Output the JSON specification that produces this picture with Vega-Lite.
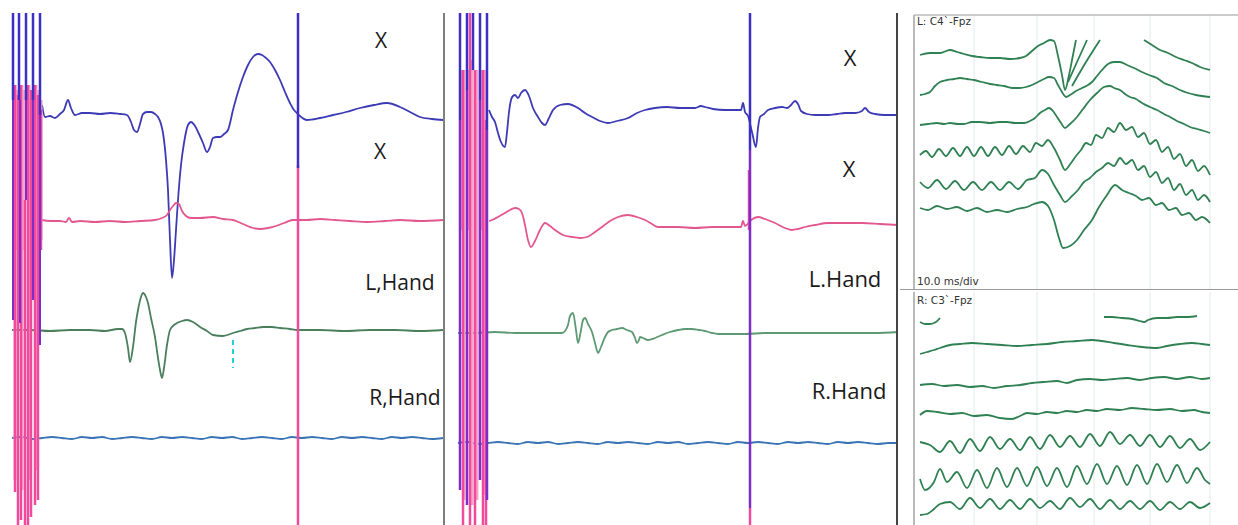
{
"$schema":"https://vega.github.io/schema/vega-lite/v6.json",
"padding":0,
"background":"white",
"spacing":0,
"config":{"view":{"stroke":null},"axis":{"disable":true}},
"resolve":{"scale":{"color":"independent"}},
"datasets":{
"L":[
{"s":"lb","x":42,"y":105},{"s":"lb","x":45,"y":117},{"s":"lb","x":50,"y":116},{"s":"lb","x":55,"y":118},{"s":"lb","x":60,"y":114},{"s":"lb","x":64,"y":110},{"s":"lb","x":68,"y":100},{"s":"lb","x":71,"y":108},{"s":"lb","x":75,"y":115},{"s":"lb","x":82,"y":113},{"s":"lb","x":90,"y":113},{"s":"lb","x":100,"y":114},{"s":"lb","x":110,"y":113},{"s":"lb","x":120,"y":114},{"s":"lb","x":127,"y":115},{"s":"lb","x":131,"y":122},{"s":"lb","x":134,"y":130},{"s":"lb","x":137,"y":132},{"s":"lb","x":140,"y":124},{"s":"lb","x":143,"y":114},{"s":"lb","x":147,"y":112},{"s":"lb","x":151,"y":112},{"s":"lb","x":155,"y":114},{"s":"lb","x":158,"y":117},{"s":"lb","x":161,"y":124},{"s":"lb","x":163,"y":133},{"s":"lb","x":166,"y":160},{"s":"lb","x":168,"y":190},{"s":"lb","x":170,"y":240},{"s":"lb","x":172,"y":278},{"s":"lb","x":174,"y":260},{"s":"lb","x":176,"y":230},{"s":"lb","x":178,"y":200},{"s":"lb","x":181,"y":165},{"s":"lb","x":184,"y":143},{"s":"lb","x":188,"y":125},{"s":"lb","x":191,"y":122},{"s":"lb","x":195,"y":126},{"s":"lb","x":199,"y":134},{"s":"lb","x":203,"y":143},{"s":"lb","x":207,"y":152},{"s":"lb","x":210,"y":147},{"s":"lb","x":213,"y":138},{"s":"lb","x":217,"y":137},{"s":"lb","x":220,"y":137},{"s":"lb","x":224,"y":134},{"s":"lb","x":228,"y":130},{"s":"lb","x":233,"y":110},{"s":"lb","x":238,"y":92},{"s":"lb","x":243,"y":77},{"s":"lb","x":248,"y":65},{"s":"lb","x":253,"y":57},{"s":"lb","x":258,"y":54},{"s":"lb","x":262,"y":55},{"s":"lb","x":266,"y":58},{"s":"lb","x":270,"y":62},{"s":"lb","x":275,"y":70},{"s":"lb","x":280,"y":80},{"s":"lb","x":285,"y":92},{"s":"lb","x":290,"y":103},{"s":"lb","x":294,"y":110},{"s":"lb","x":297,"y":113},{"s":"lb","x":300,"y":116},{"s":"lb","x":307,"y":120},{"s":"lb","x":320,"y":118},{"s":"lb","x":333,"y":115},{"s":"lb","x":346,"y":112},{"s":"lb","x":360,"y":108},{"s":"lb","x":374,"y":105},{"s":"lb","x":387,"y":103},{"s":"lb","x":400,"y":107},{"s":"lb","x":410,"y":112},{"s":"lb","x":420,"y":117},{"s":"lb","x":432,"y":119},{"s":"lb","x":443,"y":120},
{"s":"lp","x":42,"y":220},{"s":"lp","x":50,"y":221},{"s":"lp","x":60,"y":221},{"s":"lp","x":66,"y":222},{"s":"lp","x":69,"y":218},{"s":"lp","x":72,"y":222},{"s":"lp","x":80,"y":221},{"s":"lp","x":95,"y":222},{"s":"lp","x":110,"y":221},{"s":"lp","x":125,"y":222},{"s":"lp","x":140,"y":221},{"s":"lp","x":155,"y":220},{"s":"lp","x":162,"y":218},{"s":"lp","x":167,"y":215},{"s":"lp","x":170,"y":210},{"s":"lp","x":173,"y":206},{"s":"lp","x":176,"y":203},{"s":"lp","x":179,"y":204},{"s":"lp","x":182,"y":211},{"s":"lp","x":186,"y":216},{"s":"lp","x":191,"y":218},{"s":"lp","x":200,"y":218},{"s":"lp","x":213,"y":217},{"s":"lp","x":223,"y":219},{"s":"lp","x":233,"y":220},{"s":"lp","x":243,"y":224},{"s":"lp","x":253,"y":228},{"s":"lp","x":260,"y":229},{"s":"lp","x":268,"y":228},{"s":"lp","x":276,"y":226},{"s":"lp","x":284,"y":223},{"s":"lp","x":293,"y":220},{"s":"lp","x":307,"y":220},{"s":"lp","x":320,"y":219},{"s":"lp","x":335,"y":220},{"s":"lp","x":350,"y":221},{"s":"lp","x":367,"y":222},{"s":"lp","x":385,"y":221},{"s":"lp","x":400,"y":220},{"s":"lp","x":420,"y":221},{"s":"lp","x":443,"y":220},
{"s":"lg","x":12,"y":330},{"s":"lg","x":30,"y":330},{"s":"lg","x":50,"y":331},{"s":"lg","x":70,"y":330},{"s":"lg","x":90,"y":330},{"s":"lg","x":105,"y":331},{"s":"lg","x":118,"y":329},{"s":"lg","x":122,"y":329},{"s":"lg","x":125,"y":333},{"s":"lg","x":128,"y":348},{"s":"lg","x":130,"y":362},{"s":"lg","x":133,"y":347},{"s":"lg","x":136,"y":322},{"s":"lg","x":138,"y":310},{"s":"lg","x":141,"y":297},{"s":"lg","x":143,"y":293},{"s":"lg","x":146,"y":297},{"s":"lg","x":148,"y":303},{"s":"lg","x":151,"y":318},{"s":"lg","x":155,"y":337},{"s":"lg","x":158,"y":358},{"s":"lg","x":160,"y":370},{"s":"lg","x":162,"y":378},{"s":"lg","x":164,"y":368},{"s":"lg","x":167,"y":345},{"s":"lg","x":170,"y":330},{"s":"lg","x":174,"y":325},{"s":"lg","x":177,"y":323},{"s":"lg","x":182,"y":321},{"s":"lg","x":187,"y":320},{"s":"lg","x":193,"y":322},{"s":"lg","x":200,"y":327},{"s":"lg","x":207,"y":331},{"s":"lg","x":213,"y":335},{"s":"lg","x":223,"y":336},{"s":"lg","x":233,"y":333},{"s":"lg","x":240,"y":331},{"s":"lg","x":247,"y":329},{"s":"lg","x":255,"y":328},{"s":"lg","x":263,"y":327},{"s":"lg","x":272,"y":327},{"s":"lg","x":280,"y":328},{"s":"lg","x":290,"y":329},{"s":"lg","x":297,"y":330},{"s":"lg","x":320,"y":330},{"s":"lg","x":345,"y":331},{"s":"lg","x":370,"y":330},{"s":"lg","x":395,"y":330},{"s":"lg","x":420,"y":331},{"s":"lg","x":443,"y":330},
{"s":"lr","x":12,"y":438},{"s":"lr","x":22,"y":437},{"s":"lr","x":32,"y":439},{"s":"lr","x":42,"y":438},{"s":"lr","x":52,"y":437},{"s":"lr","x":62,"y":438},{"s":"lr","x":72,"y":439},{"s":"lr","x":82,"y":437},{"s":"lr","x":92,"y":438},{"s":"lr","x":102,"y":437},{"s":"lr","x":112,"y":439},{"s":"lr","x":122,"y":438},{"s":"lr","x":132,"y":437},{"s":"lr","x":142,"y":438},{"s":"lr","x":152,"y":439},{"s":"lr","x":162,"y":437},{"s":"lr","x":172,"y":438},{"s":"lr","x":182,"y":437},{"s":"lr","x":192,"y":438},{"s":"lr","x":202,"y":439},{"s":"lr","x":212,"y":437},{"s":"lr","x":222,"y":438},{"s":"lr","x":232,"y":437},{"s":"lr","x":242,"y":439},{"s":"lr","x":252,"y":438},{"s":"lr","x":262,"y":437},{"s":"lr","x":272,"y":438},{"s":"lr","x":282,"y":439},{"s":"lr","x":292,"y":437},{"s":"lr","x":302,"y":438},{"s":"lr","x":312,"y":437},{"s":"lr","x":322,"y":438},{"s":"lr","x":332,"y":439},{"s":"lr","x":342,"y":437},{"s":"lr","x":352,"y":438},{"s":"lr","x":362,"y":437},{"s":"lr","x":372,"y":438},{"s":"lr","x":382,"y":439},{"s":"lr","x":392,"y":437},{"s":"lr","x":402,"y":438},{"s":"lr","x":412,"y":437},{"s":"lr","x":422,"y":438},{"s":"lr","x":432,"y":439},{"s":"lr","x":443,"y":438}
],
"LA":[
{"c":"l","x":15,"y":85,"y2":480},{"c":"l","x":22,"y":85,"y2":490},{"c":"l","x":29,"y":85,"y2":480},{"c":"l","x":36,"y":85,"y2":470},{"c":"l","x":17,"y":90,"y2":250},{"c":"l","x":24,"y":90,"y2":250},{"c":"l","x":31,"y":90,"y2":250},{"c":"l","x":38,"y":90,"y2":250},{"c":"l","x":41,"y":100,"y2":240},
{"c":"k","x":15,"y":85,"y2":492},{"c":"k","x":18,"y":95,"y2":525},{"c":"k","x":21,"y":85,"y2":520},{"c":"k","x":25,"y":200,"y2":525},{"c":"k","x":28,"y":85,"y2":525},{"c":"k","x":31,"y":90,"y2":517},{"c":"k","x":35,"y":85,"y2":505},{"c":"k","x":38,"y":95,"y2":500},{"c":"k","x":41,"y":110,"y2":250},{"c":"k","x":298,"y":165,"y2":525},
{"c":"p","x":13,"y":100,"y2":320},{"c":"p","x":20,"y":100,"y2":323},{"c":"p","x":26,"y":100,"y2":200},{"c":"p","x":33,"y":100,"y2":300},{"c":"p","x":40,"y":115,"y2":345},
{"c":"b","x":13,"y":13,"y2":100},{"c":"b","x":19,"y":13,"y2":100},{"c":"b","x":26,"y":13,"y2":100},{"c":"b","x":33,"y":13,"y2":100},{"c":"b","x":40,"y":13,"y2":115},{"c":"b","x":298,"y":13,"y2":168},
{"c":"d","x":444,"y":13,"y2":525}
],
"LT":[
{"x":381,"y":42,"t":"X"},{"x":380,"y":153,"t":"X"},{"x":400,"y":284,"t":"L,Hand"},{"x":405,"y":399,"t":"R,Hand"}
],
"M":[
{"s":"mb","x":44,"y":110},{"s":"mb","x":47,"y":117},{"s":"mb","x":50,"y":122},{"s":"mb","x":53,"y":133},{"s":"mb","x":56,"y":142},{"s":"mb","x":60,"y":147},{"s":"mb","x":62,"y":132},{"s":"mb","x":64,"y":112},{"s":"mb","x":66,"y":100},{"s":"mb","x":68,"y":96},{"s":"mb","x":70,"y":95},{"s":"mb","x":73,"y":98},{"s":"mb","x":76,"y":93},{"s":"mb","x":80,"y":90},{"s":"mb","x":84,"y":96},{"s":"mb","x":88,"y":108},{"s":"mb","x":93,"y":117},{"s":"mb","x":97,"y":123},{"s":"mb","x":100,"y":125},{"s":"mb","x":104,"y":118},{"s":"mb","x":108,"y":110},{"s":"mb","x":115,"y":105},{"s":"mb","x":123,"y":104},{"s":"mb","x":133,"y":108},{"s":"mb","x":140,"y":113},{"s":"mb","x":147,"y":117},{"s":"mb","x":155,"y":121},{"s":"mb","x":163,"y":123},{"s":"mb","x":172,"y":121},{"s":"mb","x":183,"y":118},{"s":"mb","x":192,"y":113},{"s":"mb","x":200,"y":110},{"s":"mb","x":210,"y":108},{"s":"mb","x":222,"y":107},{"s":"mb","x":235,"y":108},{"s":"mb","x":250,"y":108},{"s":"mb","x":256,"y":106},{"s":"mb","x":260,"y":107},{"s":"mb","x":268,"y":109},{"s":"mb","x":280,"y":110},{"s":"mb","x":290,"y":110},{"s":"mb","x":296,"y":110},{"s":"mb","x":298,"y":103},{"s":"mb","x":300,"y":112},{"s":"mb","x":303,"y":116},{"s":"mb","x":307,"y":132},{"s":"mb","x":311,"y":147},{"s":"mb","x":313,"y":128},{"s":"mb","x":315,"y":117},{"s":"mb","x":319,"y":114},{"s":"mb","x":323,"y":110},{"s":"mb","x":330,"y":108},{"s":"mb","x":337,"y":107},{"s":"mb","x":342,"y":108},{"s":"mb","x":346,"y":105},{"s":"mb","x":350,"y":101},{"s":"mb","x":353,"y":104},{"s":"mb","x":356,"y":111},{"s":"mb","x":362,"y":114},{"s":"mb","x":370,"y":115},{"s":"mb","x":383,"y":115},{"s":"mb","x":392,"y":114},{"s":"mb","x":400,"y":113},{"s":"mb","x":410,"y":113},{"s":"mb","x":417,"y":111},{"s":"mb","x":420,"y":108},{"s":"mb","x":424,"y":112},{"s":"mb","x":430,"y":114},{"s":"mb","x":440,"y":115},{"s":"mb","x":453,"y":115},
{"s":"mp","x":44,"y":221},{"s":"mp","x":47,"y":220},{"s":"mp","x":53,"y":217},{"s":"mp","x":60,"y":213},{"s":"mp","x":65,"y":210},{"s":"mp","x":70,"y":208},{"s":"mp","x":74,"y":209},{"s":"mp","x":77,"y":213},{"s":"mp","x":80,"y":225},{"s":"mp","x":83,"y":240},{"s":"mp","x":86,"y":247},{"s":"mp","x":90,"y":241},{"s":"mp","x":95,"y":230},{"s":"mp","x":100,"y":223},{"s":"mp","x":105,"y":226},{"s":"mp","x":110,"y":230},{"s":"mp","x":118,"y":235},{"s":"mp","x":127,"y":237},{"s":"mp","x":135,"y":238},{"s":"mp","x":142,"y":237},{"s":"mp","x":150,"y":232},{"s":"mp","x":157,"y":227},{"s":"mp","x":165,"y":221},{"s":"mp","x":173,"y":217},{"s":"mp","x":183,"y":215},{"s":"mp","x":192,"y":217},{"s":"mp","x":200,"y":220},{"s":"mp","x":207,"y":224},{"s":"mp","x":213,"y":227},{"s":"mp","x":223,"y":227},{"s":"mp","x":233,"y":227},{"s":"mp","x":250,"y":228},{"s":"mp","x":267,"y":227},{"s":"mp","x":282,"y":227},{"s":"mp","x":296,"y":227},{"s":"mp","x":298,"y":221},{"s":"mp","x":300,"y":226},{"s":"mp","x":306,"y":220},{"s":"mp","x":313,"y":217},{"s":"mp","x":320,"y":219},{"s":"mp","x":330,"y":223},{"s":"mp","x":340,"y":228},{"s":"mp","x":347,"y":230},{"s":"mp","x":353,"y":229},{"s":"mp","x":360,"y":227},{"s":"mp","x":370,"y":225},{"s":"mp","x":383,"y":223},{"s":"mp","x":400,"y":223},{"s":"mp","x":417,"y":223},{"s":"mp","x":435,"y":224},{"s":"mp","x":453,"y":225},
{"s":"mg","x":13,"y":333},{"s":"mg","x":30,"y":333},{"s":"mg","x":50,"y":332},{"s":"mg","x":70,"y":333},{"s":"mg","x":90,"y":333},{"s":"mg","x":110,"y":333},{"s":"mg","x":117,"y":333},{"s":"mg","x":120,"y":331},{"s":"mg","x":123,"y":325},{"s":"mg","x":125,"y":316},{"s":"mg","x":128,"y":313},{"s":"mg","x":131,"y":330},{"s":"mg","x":133,"y":343},{"s":"mg","x":136,"y":330},{"s":"mg","x":138,"y":320},{"s":"mg","x":140,"y":318},{"s":"mg","x":143,"y":324},{"s":"mg","x":147,"y":332},{"s":"mg","x":150,"y":343},{"s":"mg","x":153,"y":353},{"s":"mg","x":156,"y":347},{"s":"mg","x":160,"y":337},{"s":"mg","x":163,"y":332},{"s":"mg","x":167,"y":330},{"s":"mg","x":172,"y":329},{"s":"mg","x":177,"y":328},{"s":"mg","x":182,"y":330},{"s":"mg","x":187,"y":332},{"s":"mg","x":190,"y":338},{"s":"mg","x":192,"y":343},{"s":"mg","x":194,"y":340},{"s":"mg","x":195,"y":337},{"s":"mg","x":198,"y":338},{"s":"mg","x":203,"y":340},{"s":"mg","x":210,"y":338},{"s":"mg","x":217,"y":335},{"s":"mg","x":225,"y":332},{"s":"mg","x":233,"y":330},{"s":"mg","x":240,"y":329},{"s":"mg","x":247,"y":329},{"s":"mg","x":254,"y":330},{"s":"mg","x":260,"y":331},{"s":"mg","x":267,"y":333},{"s":"mg","x":273,"y":334},{"s":"mg","x":285,"y":334},{"s":"mg","x":300,"y":334},{"s":"mg","x":320,"y":333},{"s":"mg","x":350,"y":333},{"s":"mg","x":380,"y":333},{"s":"mg","x":410,"y":333},{"s":"mg","x":430,"y":333},{"s":"mg","x":453,"y":332},
{"s":"mr","x":13,"y":443},{"s":"mr","x":23,"y":442},{"s":"mr","x":33,"y":444},{"s":"mr","x":43,"y":443},{"s":"mr","x":53,"y":442},{"s":"mr","x":63,"y":443},{"s":"mr","x":73,"y":444},{"s":"mr","x":83,"y":442},{"s":"mr","x":93,"y":443},{"s":"mr","x":103,"y":442},{"s":"mr","x":113,"y":444},{"s":"mr","x":123,"y":443},{"s":"mr","x":133,"y":442},{"s":"mr","x":143,"y":443},{"s":"mr","x":153,"y":444},{"s":"mr","x":163,"y":442},{"s":"mr","x":173,"y":443},{"s":"mr","x":183,"y":442},{"s":"mr","x":193,"y":443},{"s":"mr","x":203,"y":444},{"s":"mr","x":213,"y":442},{"s":"mr","x":223,"y":443},{"s":"mr","x":233,"y":442},{"s":"mr","x":243,"y":444},{"s":"mr","x":253,"y":443},{"s":"mr","x":263,"y":442},{"s":"mr","x":273,"y":443},{"s":"mr","x":283,"y":444},{"s":"mr","x":293,"y":442},{"s":"mr","x":303,"y":443},{"s":"mr","x":313,"y":442},{"s":"mr","x":323,"y":443},{"s":"mr","x":333,"y":444},{"s":"mr","x":343,"y":442},{"s":"mr","x":353,"y":443},{"s":"mr","x":363,"y":442},{"s":"mr","x":373,"y":443},{"s":"mr","x":383,"y":444},{"s":"mr","x":393,"y":442},{"s":"mr","x":403,"y":443},{"s":"mr","x":413,"y":442},{"s":"mr","x":423,"y":443},{"s":"mr","x":433,"y":444},{"s":"mr","x":443,"y":443},{"s":"mr","x":453,"y":443}
],
"MA":[
{"c":"l","x":19,"y":70,"y2":500},{"c":"l","x":27,"y":60,"y2":505},{"c":"l","x":32,"y":70,"y2":500},{"c":"l","x":40,"y":70,"y2":495},{"c":"l","x":16,"y":70,"y2":230},{"c":"l","x":23,"y":70,"y2":230},{"c":"l","x":36,"y":70,"y2":230},
{"c":"k","x":18,"y":70,"y2":525},{"c":"k","x":25,"y":13,"y2":525},{"c":"k","x":30,"y":70,"y2":525},{"c":"k","x":38,"y":70,"y2":525},{"c":"k","x":41,"y":120,"y2":525},{"c":"k","x":305,"y":508,"y2":525},{"c":"k","x":304,"y":170,"y2":230},
{"c":"p","x":15,"y":120,"y2":490},{"c":"p","x":22,"y":90,"y2":505},{"c":"p","x":35,"y":100,"y2":480},{"c":"p","x":42,"y":130,"y2":500},{"c":"p","x":305,"y":150,"y2":508},
{"c":"b","x":15,"y":13,"y2":120},{"c":"b","x":22,"y":13,"y2":90},{"c":"b","x":28,"y":13,"y2":70},{"c":"b","x":35,"y":13,"y2":100},{"c":"b","x":42,"y":13,"y2":130},{"c":"b","x":305,"y":13,"y2":150},
{"c":"d","x":452,"y":13,"y2":525}
],
"MT":[
{"x":405,"y":59,"t":"X"},{"x":404,"y":170,"t":"X"},{"x":400,"y":280,"t":"L.Hand"},{"x":404,"y":392,"t":"R.Hand"}
],
"RT":[
{"s":"a1","x":918,"y":55},{"s":"a1","x":928,"y":53},{"s":"a1","x":938,"y":53},{"s":"a1","x":948,"y":50},{"s":"a1","x":955,"y":52},{"s":"a1","x":962,"y":54},{"s":"a1","x":970,"y":56},{"s":"a1","x":978,"y":57},{"s":"a1","x":988,"y":58},{"s":"a1","x":998,"y":58},{"s":"a1","x":1008,"y":59},{"s":"a1","x":1018,"y":58},{"s":"a1","x":1024,"y":56},{"s":"a1","x":1030,"y":51},{"s":"a1","x":1036,"y":46},{"s":"a1","x":1042,"y":43},{"s":"a1","x":1048,"y":40},{"s":"a1","x":1052,"y":41},{"s":"a1","x":1056,"y":56},{"s":"a1","x":1060,"y":75},{"s":"a1","x":1063,"y":90},{"s":"a1","x":1067,"y":75},{"s":"a1","x":1071,"y":55},{"s":"a1","x":1074,"y":40},
{"s":"a1c","x":1066,"y":82},{"s":"a1c","x":1075,"y":62},{"s":"a1c","x":1085,"y":40},
{"s":"a1d","x":1070,"y":86},{"s":"a1d","x":1084,"y":62},{"s":"a1d","x":1098,"y":40},
{"s":"a1b","x":1142,"y":40},{"s":"a1b","x":1150,"y":45},{"s":"a1b","x":1158,"y":50},{"s":"a1b","x":1166,"y":53},{"s":"a1b","x":1174,"y":57},{"s":"a1b","x":1182,"y":60},{"s":"a1b","x":1190,"y":63},{"s":"a1b","x":1198,"y":67},{"s":"a1b","x":1208,"y":70},
{"s":"a2","x":918,"y":95},{"s":"a2","x":923,"y":94},{"s":"a2","x":928,"y":92},{"s":"a2","x":933,"y":86},{"s":"a2","x":938,"y":82},{"s":"a2","x":945,"y":80},{"s":"a2","x":952,"y":79},{"s":"a2","x":958,"y":78},{"s":"a2","x":965,"y":79},{"s":"a2","x":972,"y":80},{"s":"a2","x":980,"y":82},{"s":"a2","x":988,"y":84},{"s":"a2","x":995,"y":85},{"s":"a2","x":1002,"y":86},{"s":"a2","x":1010,"y":88},{"s":"a2","x":1018,"y":88},{"s":"a2","x":1024,"y":87},{"s":"a2","x":1030,"y":85},{"s":"a2","x":1036,"y":82},{"s":"a2","x":1042,"y":79},{"s":"a2","x":1047,"y":77},{"s":"a2","x":1052,"y":78},{"s":"a2","x":1056,"y":85},{"s":"a2","x":1060,"y":92},{"s":"a2","x":1064,"y":97},{"s":"a2","x":1068,"y":95},{"s":"a2","x":1074,"y":91},{"s":"a2","x":1080,"y":88},{"s":"a2","x":1086,"y":85},{"s":"a2","x":1090,"y":82},{"s":"a2","x":1095,"y":76},{"s":"a2","x":1100,"y":70},{"s":"a2","x":1106,"y":64},{"s":"a2","x":1112,"y":62},{"s":"a2","x":1118,"y":62},{"s":"a2","x":1125,"y":65},{"s":"a2","x":1132,"y":68},{"s":"a2","x":1140,"y":72},{"s":"a2","x":1147,"y":75},{"s":"a2","x":1155,"y":78},{"s":"a2","x":1162,"y":83},{"s":"a2","x":1170,"y":86},{"s":"a2","x":1178,"y":90},{"s":"a2","x":1186,"y":93},{"s":"a2","x":1194,"y":95},{"s":"a2","x":1200,"y":96},{"s":"a2","x":1208,"y":97},
{"s":"a3","x":918,"y":125},{"s":"a3","x":926,"y":124},{"s":"a3","x":935,"y":123},{"s":"a3","x":942,"y":124},{"s":"a3","x":948,"y":123},{"s":"a3","x":956,"y":124},{"s":"a3","x":962,"y":124},{"s":"a3","x":970,"y":122},{"s":"a3","x":978,"y":122},{"s":"a3","x":988,"y":123},{"s":"a3","x":997,"y":122},{"s":"a3","x":1005,"y":122},{"s":"a3","x":1013,"y":123},{"s":"a3","x":1022,"y":123},{"s":"a3","x":1028,"y":121},{"s":"a3","x":1033,"y":118},{"s":"a3","x":1038,"y":113},{"s":"a3","x":1043,"y":110},{"s":"a3","x":1047,"y":108},{"s":"a3","x":1051,"y":111},{"s":"a3","x":1055,"y":117},{"s":"a3","x":1059,"y":123},{"s":"a3","x":1063,"y":128},{"s":"a3","x":1068,"y":124},{"s":"a3","x":1075,"y":117},{"s":"a3","x":1081,"y":109},{"s":"a3","x":1088,"y":100},{"s":"a3","x":1095,"y":93},{"s":"a3","x":1102,"y":87},{"s":"a3","x":1108,"y":86},{"s":"a3","x":1112,"y":88},{"s":"a3","x":1118,"y":90},{"s":"a3","x":1123,"y":94},{"s":"a3","x":1128,"y":97},{"s":"a3","x":1134,"y":99},{"s":"a3","x":1140,"y":103},{"s":"a3","x":1148,"y":107},{"s":"a3","x":1155,"y":110},{"s":"a3","x":1162,"y":114},{"s":"a3","x":1168,"y":117},{"s":"a3","x":1175,"y":121},{"s":"a3","x":1182,"y":124},{"s":"a3","x":1188,"y":127},{"s":"a3","x":1195,"y":129},{"s":"a3","x":1202,"y":131},{"s":"a3","x":1208,"y":133},
{"s":"a4","x":918,"y":155},{"s":"a4","x":924,"y":151},{"s":"a4","x":930,"y":157},{"s":"a4","x":937,"y":149},{"s":"a4","x":944,"y":156},{"s":"a4","x":951,"y":148},{"s":"a4","x":958,"y":156},{"s":"a4","x":965,"y":147},{"s":"a4","x":972,"y":156},{"s":"a4","x":979,"y":147},{"s":"a4","x":986,"y":156},{"s":"a4","x":993,"y":147},{"s":"a4","x":1000,"y":155},{"s":"a4","x":1007,"y":146},{"s":"a4","x":1014,"y":154},{"s":"a4","x":1021,"y":146},{"s":"a4","x":1028,"y":152},{"s":"a4","x":1034,"y":143},{"s":"a4","x":1040,"y":146},{"s":"a4","x":1046,"y":140},{"s":"a4","x":1052,"y":148},{"s":"a4","x":1058,"y":160},{"s":"a4","x":1063,"y":170},{"s":"a4","x":1069,"y":163},{"s":"a4","x":1074,"y":156},{"s":"a4","x":1079,"y":150},{"s":"a4","x":1084,"y":143},{"s":"a4","x":1089,"y":145},{"s":"a4","x":1094,"y":135},{"s":"a4","x":1100,"y":138},{"s":"a4","x":1106,"y":128},{"s":"a4","x":1112,"y":132},{"s":"a4","x":1118,"y":123},{"s":"a4","x":1124,"y":130},{"s":"a4","x":1130,"y":127},{"s":"a4","x":1136,"y":137},{"s":"a4","x":1142,"y":133},{"s":"a4","x":1148,"y":144},{"s":"a4","x":1154,"y":140},{"s":"a4","x":1160,"y":152},{"s":"a4","x":1166,"y":147},{"s":"a4","x":1172,"y":159},{"s":"a4","x":1178,"y":154},{"s":"a4","x":1184,"y":166},{"s":"a4","x":1190,"y":160},{"s":"a4","x":1196,"y":171},{"s":"a4","x":1202,"y":166},{"s":"a4","x":1208,"y":175},
{"s":"a5","x":918,"y":182},{"s":"a5","x":926,"y":188},{"s":"a5","x":935,"y":180},{"s":"a5","x":944,"y":189},{"s":"a5","x":953,"y":181},{"s":"a5","x":962,"y":190},{"s":"a5","x":971,"y":182},{"s":"a5","x":980,"y":190},{"s":"a5","x":989,"y":182},{"s":"a5","x":998,"y":190},{"s":"a5","x":1007,"y":182},{"s":"a5","x":1016,"y":189},{"s":"a5","x":1025,"y":180},{"s":"a5","x":1033,"y":178},{"s":"a5","x":1040,"y":170},{"s":"a5","x":1046,"y":174},{"s":"a5","x":1052,"y":185},{"s":"a5","x":1058,"y":195},{"s":"a5","x":1063,"y":202},{"s":"a5","x":1070,"y":196},{"s":"a5","x":1076,"y":190},{"s":"a5","x":1082,"y":182},{"s":"a5","x":1088,"y":178},{"s":"a5","x":1094,"y":172},{"s":"a5","x":1100,"y":168},{"s":"a5","x":1106,"y":163},{"s":"a5","x":1112,"y":166},{"s":"a5","x":1118,"y":158},{"s":"a5","x":1124,"y":164},{"s":"a5","x":1130,"y":160},{"s":"a5","x":1136,"y":170},{"s":"a5","x":1142,"y":166},{"s":"a5","x":1148,"y":177},{"s":"a5","x":1154,"y":172},{"s":"a5","x":1160,"y":183},{"s":"a5","x":1166,"y":178},{"s":"a5","x":1172,"y":190},{"s":"a5","x":1178,"y":184},{"s":"a5","x":1184,"y":195},{"s":"a5","x":1190,"y":190},{"s":"a5","x":1196,"y":200},{"s":"a5","x":1202,"y":195},{"s":"a5","x":1208,"y":202},
{"s":"a6","x":918,"y":208},{"s":"a6","x":926,"y":210},{"s":"a6","x":935,"y":206},{"s":"a6","x":945,"y":209},{"s":"a6","x":955,"y":207},{"s":"a6","x":965,"y":211},{"s":"a6","x":975,"y":208},{"s":"a6","x":985,"y":212},{"s":"a6","x":995,"y":210},{"s":"a6","x":1005,"y":212},{"s":"a6","x":1015,"y":209},{"s":"a6","x":1025,"y":207},{"s":"a6","x":1032,"y":204},{"s":"a6","x":1040,"y":202},{"s":"a6","x":1046,"y":206},{"s":"a6","x":1052,"y":220},{"s":"a6","x":1057,"y":238},{"s":"a6","x":1061,"y":248},{"s":"a6","x":1068,"y":246},{"s":"a6","x":1075,"y":240},{"s":"a6","x":1082,"y":230},{"s":"a6","x":1090,"y":220},{"s":"a6","x":1097,"y":207},{"s":"a6","x":1105,"y":195},{"s":"a6","x":1113,"y":185},{"s":"a6","x":1120,"y":190},{"s":"a6","x":1127,"y":193},{"s":"a6","x":1134,"y":196},{"s":"a6","x":1140,"y":200},{"s":"a6","x":1147,"y":198},{"s":"a6","x":1154,"y":205},{"s":"a6","x":1160,"y":203},{"s":"a6","x":1167,"y":210},{"s":"a6","x":1174,"y":208},{"s":"a6","x":1180,"y":215},{"s":"a6","x":1187,"y":213},{"s":"a6","x":1194,"y":220},{"s":"a6","x":1200,"y":217},{"s":"a6","x":1208,"y":223}
],
"RB":[
{"s":"b1a","x":918,"y":320},{"s":"b1a","x":923,"y":322},{"s":"b1a","x":928,"y":322},{"s":"b1a","x":934,"y":320},{"s":"b1a","x":938,"y":316},
{"s":"b1b","x":1102,"y":315},{"s":"b1b","x":1110,"y":315},{"s":"b1b","x":1120,"y":316},{"s":"b1b","x":1130,"y":317},{"s":"b1b","x":1138,"y":319},{"s":"b1b","x":1142,"y":320},{"s":"b1b","x":1146,"y":318},{"s":"b1b","x":1155,"y":316},{"s":"b1b","x":1165,"y":316},{"s":"b1b","x":1175,"y":315},{"s":"b1b","x":1185,"y":315},{"s":"b1b","x":1195,"y":314},
{"s":"b2","x":918,"y":352},{"s":"b2","x":925,"y":350},{"s":"b2","x":932,"y":348},{"s":"b2","x":938,"y":346},{"s":"b2","x":948,"y":343},{"s":"b2","x":958,"y":342},{"s":"b2","x":970,"y":341},{"s":"b2","x":985,"y":342},{"s":"b2","x":1000,"y":343},{"s":"b2","x":1015,"y":344},{"s":"b2","x":1030,"y":343},{"s":"b2","x":1045,"y":342},{"s":"b2","x":1060,"y":340},{"s":"b2","x":1075,"y":339},{"s":"b2","x":1090,"y":338},{"s":"b2","x":1100,"y":339},{"s":"b2","x":1112,"y":341},{"s":"b2","x":1125,"y":343},{"s":"b2","x":1140,"y":345},{"s":"b2","x":1155,"y":346},{"s":"b2","x":1165,"y":344},{"s":"b2","x":1178,"y":342},{"s":"b2","x":1190,"y":341},{"s":"b2","x":1200,"y":342},{"s":"b2","x":1208,"y":343},
{"s":"b3","x":918,"y":383},{"s":"b3","x":930,"y":382},{"s":"b3","x":942,"y":384},{"s":"b3","x":955,"y":383},{"s":"b3","x":968,"y":385},{"s":"b3","x":980,"y":384},{"s":"b3","x":992,"y":386},{"s":"b3","x":1005,"y":384},{"s":"b3","x":1018,"y":383},{"s":"b3","x":1030,"y":381},{"s":"b3","x":1042,"y":380},{"s":"b3","x":1055,"y":379},{"s":"b3","x":1065,"y":381},{"s":"b3","x":1075,"y":378},{"s":"b3","x":1088,"y":377},{"s":"b3","x":1100,"y":378},{"s":"b3","x":1112,"y":377},{"s":"b3","x":1125,"y":376},{"s":"b3","x":1138,"y":378},{"s":"b3","x":1150,"y":376},{"s":"b3","x":1162,"y":375},{"s":"b3","x":1175,"y":377},{"s":"b3","x":1188,"y":375},{"s":"b3","x":1200,"y":377},{"s":"b3","x":1208,"y":376},
{"s":"b4","x":918,"y":413},{"s":"b4","x":925,"y":409},{"s":"b4","x":935,"y":410},{"s":"b4","x":948,"y":412},{"s":"b4","x":960,"y":411},{"s":"b4","x":972,"y":414},{"s":"b4","x":985,"y":413},{"s":"b4","x":998,"y":416},{"s":"b4","x":1010,"y":417},{"s":"b4","x":1018,"y":414},{"s":"b4","x":1025,"y":411},{"s":"b4","x":1035,"y":412},{"s":"b4","x":1045,"y":410},{"s":"b4","x":1055,"y":411},{"s":"b4","x":1065,"y":409},{"s":"b4","x":1075,"y":410},{"s":"b4","x":1085,"y":408},{"s":"b4","x":1095,"y":409},{"s":"b4","x":1105,"y":407},{"s":"b4","x":1118,"y":408},{"s":"b4","x":1130,"y":406},{"s":"b4","x":1142,"y":407},{"s":"b4","x":1155,"y":408},{"s":"b4","x":1168,"y":407},{"s":"b4","x":1180,"y":409},{"s":"b4","x":1192,"y":408},{"s":"b4","x":1200,"y":410},{"s":"b4","x":1208,"y":411},
{"s":"b5","x":918,"y":440},{"s":"b5","x":928,"y":443},{"s":"b5","x":938,"y":450},{"s":"b5","x":948,"y":439},{"s":"b5","x":958,"y":451},{"s":"b5","x":968,"y":437},{"s":"b5","x":978,"y":449},{"s":"b5","x":988,"y":435},{"s":"b5","x":998,"y":447},{"s":"b5","x":1008,"y":437},{"s":"b5","x":1018,"y":448},{"s":"b5","x":1028,"y":435},{"s":"b5","x":1038,"y":447},{"s":"b5","x":1048,"y":433},{"s":"b5","x":1058,"y":445},{"s":"b5","x":1068,"y":434},{"s":"b5","x":1078,"y":445},{"s":"b5","x":1088,"y":432},{"s":"b5","x":1098,"y":444},{"s":"b5","x":1108,"y":430},{"s":"b5","x":1118,"y":442},{"s":"b5","x":1128,"y":433},{"s":"b5","x":1138,"y":444},{"s":"b5","x":1148,"y":433},{"s":"b5","x":1158,"y":445},{"s":"b5","x":1168,"y":434},{"s":"b5","x":1178,"y":446},{"s":"b5","x":1188,"y":437},{"s":"b5","x":1198,"y":448},{"s":"b5","x":1208,"y":440},
{"s":"b6","x":918,"y":477},{"s":"b6","x":923,"y":488},{"s":"b6","x":932,"y":480},{"s":"b6","x":938,"y":467},{"s":"b6","x":945,"y":480},{"s":"b6","x":955,"y":470},{"s":"b6","x":965,"y":486},{"s":"b6","x":975,"y":468},{"s":"b6","x":985,"y":486},{"s":"b6","x":995,"y":466},{"s":"b6","x":1005,"y":485},{"s":"b6","x":1015,"y":466},{"s":"b6","x":1025,"y":484},{"s":"b6","x":1035,"y":465},{"s":"b6","x":1045,"y":484},{"s":"b6","x":1055,"y":466},{"s":"b6","x":1065,"y":485},{"s":"b6","x":1075,"y":464},{"s":"b6","x":1085,"y":482},{"s":"b6","x":1095,"y":462},{"s":"b6","x":1105,"y":482},{"s":"b6","x":1115,"y":464},{"s":"b6","x":1125,"y":483},{"s":"b6","x":1135,"y":463},{"s":"b6","x":1145,"y":482},{"s":"b6","x":1155,"y":462},{"s":"b6","x":1165,"y":480},{"s":"b6","x":1175,"y":463},{"s":"b6","x":1185,"y":481},{"s":"b6","x":1195,"y":466},{"s":"b6","x":1203,"y":478},{"s":"b6","x":1208,"y":482},
{"s":"b7","x":918,"y":513},{"s":"b7","x":925,"y":512},{"s":"b7","x":932,"y":507},{"s":"b7","x":938,"y":502},{"s":"b7","x":948,"y":500},{"s":"b7","x":958,"y":507},{"s":"b7","x":968,"y":496},{"s":"b7","x":978,"y":506},{"s":"b7","x":988,"y":497},{"s":"b7","x":998,"y":507},{"s":"b7","x":1008,"y":498},{"s":"b7","x":1018,"y":507},{"s":"b7","x":1028,"y":497},{"s":"b7","x":1038,"y":506},{"s":"b7","x":1048,"y":499},{"s":"b7","x":1058,"y":507},{"s":"b7","x":1068,"y":496},{"s":"b7","x":1078,"y":505},{"s":"b7","x":1088,"y":497},{"s":"b7","x":1098,"y":507},{"s":"b7","x":1108,"y":498},{"s":"b7","x":1118,"y":507},{"s":"b7","x":1128,"y":499},{"s":"b7","x":1138,"y":507},{"s":"b7","x":1148,"y":499},{"s":"b7","x":1158,"y":508},{"s":"b7","x":1168,"y":500},{"s":"b7","x":1178,"y":507},{"s":"b7","x":1188,"y":500},{"s":"b7","x":1198,"y":506},{"s":"b7","x":1208,"y":501}
],
"RTV":[
{"k":"g","x":972,"y":15,"y2":290},{"k":"g","x":1035,"y":15,"y2":290},{"k":"g","x":1092,"y":15,"y2":290},{"k":"g","x":1148,"y":15,"y2":290},{"k":"g","x":1208,"y":15,"y2":290},
{"k":"f","x":912,"y":15,"y2":290}
],
"RTH":[
{"x":912,"x2":1238,"y":15},{"x":898,"x2":1238,"y":289.5}
],
"RBV":[
{"k":"g","x":972,"y":290,"y2":525},{"k":"g","x":1035,"y":290,"y2":525},{"k":"g","x":1092,"y":290,"y2":525},{"k":"g","x":1148,"y":290,"y2":525},{"k":"g","x":1208,"y":290,"y2":525},
{"k":"f","x":912,"y":290,"y2":525}
],
"RTT":[
{"x":915,"y":22,"t":"L: C4`-Fpz"},{"x":915,"y":282,"t":"10.0 ms/div"}
],
"RBT":[
{"x":915,"y":299,"t":"R: C3`-Fpz"}
]
},
"hconcat":[
{
"width":445,"height":525,
"encoding":{
"x":{"field":"x","type":"quantitative","scale":{"domain":[0,445],"nice":false,"zero":false},"axis":null},
"y":{"field":"y","type":"quantitative","scale":{"domain":[0,525],"reverse":true,"nice":false,"zero":false},"axis":null}
},
"layer":[
{"data":{"name":"L"},"mark":{"type":"line","strokeWidth":1.8,"strokeJoin":"round","interpolate":"monotone"},
"encoding":{"color":{"field":"s","type":"nominal","scale":{"domain":["lb","lp","lg","lr"],"range":["#3d3ab5","#e2578e","#4a7f5c","#3a74b5"]},"legend":null}}},
{"data":{"values":[{"x":233,"y":340,"y2":368}]},"mark":{"type":"rule","color":"#26d0d8","strokeWidth":2,"strokeDash":[5,4]},"encoding":{"y2":{"field":"y2"}}},
{"data":{"name":"LA"},"transform":[{"filter":"datum.c==='l'"}],"mark":{"type":"rule","color":"#f7a6cb","strokeWidth":3},"encoding":{"y2":{"field":"y2"}}},
{"data":{"name":"LA"},"transform":[{"filter":"datum.c==='k'"}],"mark":{"type":"rule","color":"#f04a9c","strokeWidth":2.5},"encoding":{"y2":{"field":"y2"}}},
{"data":{"name":"LA"},"transform":[{"filter":"datum.c==='p'"}],"mark":{"type":"rule","color":"#7d2ec8","strokeWidth":2},"encoding":{"y2":{"field":"y2"}}},
{"data":{"name":"LA"},"transform":[{"filter":"datum.c==='b'"}],"mark":{"type":"rule","color":"#3b2fc4","strokeWidth":2.5},"encoding":{"y2":{"field":"y2"}}},
{"data":{"name":"LA"},"transform":[{"filter":"datum.c==='d'"}],"mark":{"type":"rule","color":"#555555","strokeWidth":1.5},"encoding":{"y2":{"field":"y2"}}},
{"data":{"name":"LT"},"mark":{"type":"text","font":"Open Sans","fontSize":21,"color":"#1a1a1a","align":"center","baseline":"middle"},"encoding":{"text":{"field":"t"}}}
]
},
{
"width":453,"height":525,
"encoding":{
"x":{"field":"x","type":"quantitative","scale":{"domain":[0,453],"nice":false,"zero":false},"axis":null},
"y":{"field":"y","type":"quantitative","scale":{"domain":[0,525],"reverse":true,"nice":false,"zero":false},"axis":null}
},
"layer":[
{"data":{"name":"M"},"mark":{"type":"line","strokeWidth":1.8,"strokeJoin":"round","interpolate":"monotone"},
"encoding":{"color":{"field":"s","type":"nominal","scale":{"domain":["mb","mp","mg","mr"],"range":["#3d3ab5","#e2578e","#5d9a73","#3a74b5"]},"legend":null}}},
{"data":{"name":"MA"},"transform":[{"filter":"datum.c==='l'"}],"mark":{"type":"rule","color":"#f7a6cb","strokeWidth":3},"encoding":{"y2":{"field":"y2"}}},
{"data":{"name":"MA"},"transform":[{"filter":"datum.c==='k'"}],"mark":{"type":"rule","color":"#f04a9c","strokeWidth":2.5},"encoding":{"y2":{"field":"y2"}}},
{"data":{"name":"MA"},"transform":[{"filter":"datum.c==='p'"}],"mark":{"type":"rule","color":"#7d2ec8","strokeWidth":2.5},"encoding":{"y2":{"field":"y2"}}},
{"data":{"name":"MA"},"transform":[{"filter":"datum.c==='b'"}],"mark":{"type":"rule","color":"#3b2fc4","strokeWidth":2.5},"encoding":{"y2":{"field":"y2"}}},
{"data":{"name":"MA"},"transform":[{"filter":"datum.c==='d'"}],"mark":{"type":"rule","color":"#444444","strokeWidth":2},"encoding":{"y2":{"field":"y2"}}},
{"data":{"name":"MT"},"mark":{"type":"text","font":"Open Sans","fontSize":22,"color":"#1a1a1a","align":"center","baseline":"middle"},"encoding":{"text":{"field":"t"}}}
]
},
{
"spacing":0,
"resolve":{"scale":{"color":"independent"}},
"vconcat":[
{
"width":340,"height":290,
"encoding":{
"x":{"field":"x","type":"quantitative","scale":{"domain":[898,1238],"nice":false,"zero":false},"axis":null},
"y":{"field":"y","type":"quantitative","scale":{"domain":[0,290],"reverse":true,"nice":false,"zero":false},"axis":null}
},
"layer":[
{"data":{"name":"RTV"},"transform":[{"filter":"datum.k==='g'"}],"mark":{"type":"rule","color":"#e3eaec","strokeWidth":1},"encoding":{"y2":{"field":"y2"}}},
{"data":{"name":"RTV"},"transform":[{"filter":"datum.k==='f'"}],"mark":{"type":"rule","color":"#8a8a8a","strokeWidth":1.2},"encoding":{"y2":{"field":"y2"}}},
{"data":{"name":"RTH"},"mark":{"type":"rule","color":"#9a9a9a","strokeWidth":1.2},"encoding":{"x2":{"field":"x2"}}},
{"data":{"name":"RT"},"mark":{"type":"line","strokeWidth":1.8,"strokeJoin":"round","color":"#2f8052","interpolate":"monotone"},"encoding":{"detail":{"field":"s","type":"nominal"}}},
{"data":{"name":"RTT"},"mark":{"type":"text","font":"DejaVu Sans","fontSize":10.5,"color":"#333333","align":"left","baseline":"middle"},"encoding":{"text":{"field":"t"}}}
]
},
{
"width":340,"height":235,
"encoding":{
"x":{"field":"x","type":"quantitative","scale":{"domain":[898,1238],"nice":false,"zero":false},"axis":null},
"y":{"field":"y","type":"quantitative","scale":{"domain":[290,525],"reverse":true,"nice":false,"zero":false},"axis":null}
},
"layer":[
{"data":{"name":"RBV"},"transform":[{"filter":"datum.k==='g'"}],"mark":{"type":"rule","color":"#e3eaec","strokeWidth":1},"encoding":{"y2":{"field":"y2"}}},
{"data":{"name":"RBV"},"transform":[{"filter":"datum.k==='f'"}],"mark":{"type":"rule","color":"#8a8a8a","strokeWidth":1.2},"encoding":{"y2":{"field":"y2"}}},
{"data":{"name":"RB"},"mark":{"type":"line","strokeWidth":1.8,"strokeJoin":"round","color":"#2f8052","interpolate":"monotone"},"encoding":{"detail":{"field":"s","type":"nominal"}}},
{"data":{"name":"RBT"},"mark":{"type":"text","font":"DejaVu Sans","fontSize":10.5,"color":"#333333","align":"left","baseline":"middle"},"encoding":{"text":{"field":"t"}}}
]
}
]
}
]
}
